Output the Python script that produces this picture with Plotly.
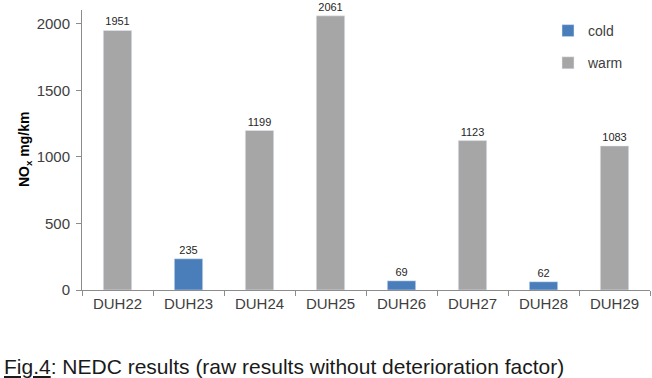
import plotly.graph_objects as go

categories = ["DUH22", "DUH23", "DUH24", "DUH25", "DUH26", "DUH27", "DUH28", "DUH29"]
conditions = ["warm", "cold", "warm", "warm", "cold", "warm", "cold", "warm"]
nox_values = [1951, 235, 1199, 2061, 69, 1123, 62, 1083]
y_ticks = [0, 500, 1000, 1500, 2000]

COLORS = {"cold": "#4A7EBB", "warm": "#A6A6A6"}
FONT = "Liberation Sans, Arial, sans-serif"

fig = go.Figure()
for cond in ["cold", "warm"]:
    xs = [c for c, k in zip(categories, conditions) if k == cond]
    ys = [v for v, k in zip(nox_values, conditions) if k == cond]
    fig.add_trace(go.Bar(
        x=xs, y=ys, name=cond, marker_color=COLORS[cond],
        text=[str(v) for v in ys], textposition="outside", cliponaxis=False,
        textfont=dict(size=11, color="#262626"), width=0.4,
        legendgroup=cond))

fig.update_layout(
    width=652, height=378,
    margin=dict(l=82, r=2, t=10, b=88),
    paper_bgcolor="white", plot_bgcolor="white",
    barmode="overlay",
    font=dict(family=FONT, color="#404040", size=14),
    showlegend=True,
    legend=dict(x=(548 - 82) / 568, y=(290 - 15) / 280, xanchor="left", yanchor="top",
                font=dict(size=14, color="#404040"), tracegroupgap=11,
                bgcolor="rgba(0,0,0,0)"),
    xaxis=dict(type="category", categoryorder="array", categoryarray=categories,
               showline=True, linecolor="#8C8C8C", linewidth=1,
               ticks="outside", tickson="boundaries", ticklen=5, tickcolor="#8C8C8C",
               tickfont=dict(size=15, color="#404040"), showgrid=False),
    yaxis=dict(range=[0, 2105], tickvals=y_ticks, showline=True, linecolor="#8C8C8C",
               linewidth=1, ticks="outside", ticklen=5, tickcolor="#8C8C8C",
               ticklabelstandoff=3,
               tickfont=dict(size=15, color="#404040"), showgrid=False, zeroline=False),
    annotations=[
        dict(text="<b>NO<sub>x</sub> mg/km</b>", xref="paper", yref="paper",
             x=-57 / 568, y=0.5, xanchor="center", yanchor="middle", textangle=-90,
             showarrow=False, font=dict(size=14, color="#000000")),
        dict(text="<u>Fig.4</u>: NEDC results (raw results without deterioration factor)",
             xref="paper", yref="paper", x=-80 / 568, y=-(366 - 290) / 280,
             xanchor="left", yanchor="middle", showarrow=False,
             font=dict(size=21, color="#1a1a1a")),
    ],
)

fig.write_html("out.html", config={"displayModeBar": False},
               post_script="document.body.style.margin='0';")
